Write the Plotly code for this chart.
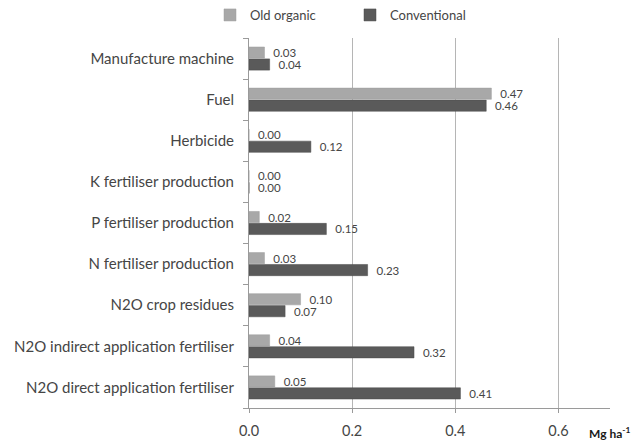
import plotly.graph_objects as go

categories = [
    "N2O direct application fertiliser",
    "N2O indirect application fertiliser",
    "N2O crop residues",
    "N fertiliser production",
    "P fertiliser production",
    "K fertiliser production",
    "Herbicide",
    "Fuel",
    "Manufacture machine",
]
old_organic = [0.05, 0.04, 0.10, 0.03, 0.02, 0.00, 0.00, 0.47, 0.03]
conventional = [0.41, 0.32, 0.07, 0.23, 0.15, 0.00, 0.12, 0.46, 0.04]
x_ticks = [0.0, 0.2, 0.4, 0.6]
x_tick_labels = ["0.0", "0.2", "0.4", "0.6"]

FONT = "Lato, 'Open Sans', sans-serif"
TXT = "#454545"
fig = go.Figure()
fig.add_trace(go.Bar(
    y=categories, x=conventional, orientation="h", name="Conventional",
    marker=dict(color="#5a5a5a", line=dict(color="#4a4a4a", width=0.5)),
    text=conventional, texttemplate="  %{x:.2f}", textposition="outside",
    constraintext="none",
    textfont=dict(size=11.5, color=TXT, family=FONT), cliponaxis=False,
))
fig.add_trace(go.Bar(
    y=categories, x=old_organic, orientation="h", name="Old organic",
    marker=dict(color="#a8a8a8", line=dict(color="#9c9c9c", width=0.5)),
    text=old_organic, texttemplate="  %{x:.2f}", textposition="outside",
    constraintext="none",
    textfont=dict(size=11.5, color=TXT, family=FONT), cliponaxis=False,
))

fig.update_layout(
    width=632, height=443,
    margin=dict(l=249, r=22, t=38, b=35, autoexpand=False),
    paper_bgcolor="white", plot_bgcolor="white",
    barmode="group", bargap=0.42, bargroupgap=0.06,
    font=dict(family=FONT, size=14, color=TXT),
    showlegend=True,
    legend=dict(orientation="h", traceorder="reversed",
                x=(210 - 249) / 361, y=1 + (38 - 15) / 370,
                xanchor="left", yanchor="middle", font=dict(size=13, color=TXT),
                entrywidth=95, entrywidthmode="pixels"),
)
fig.update_xaxes(
    range=[0, 0.7], tickvals=x_ticks, ticktext=x_tick_labels,
    showgrid=True, gridcolor="#b5b5b5", gridwidth=1,
    showline=True, linecolor="#9a9a9a", linewidth=1,
    ticks="outside", ticklen=4, tickcolor="#9a9a9a",
    ticklabelstandoff=6, zeroline=False, automargin=False,
    tickfont=dict(size=14.5, color=TXT),
)
fig.update_yaxes(
    categoryorder="array", categoryarray=categories,
    showline=True, linecolor="#9a9a9a", linewidth=1,
    ticks="outside", ticklen=5, tickcolor="#9a9a9a", tickson="boundaries",
    ticklabelstandoff=11, showgrid=False, automargin=False,
    tickfont=dict(size=15, color=TXT),
)
fig.add_annotation(
    text="<b>Mg ha<sup>-1</sup></b>", xref="paper", yref="paper",
    x=1.0 + 22 / 361, y=0, yshift=-25, xanchor="right", yanchor="middle",
    showarrow=False, font=dict(size=12, color="#1a1a1a"),
)
fig.write_html("out.html", config={"displayModeBar": False},
               post_script="document.body.style.margin='0';")
